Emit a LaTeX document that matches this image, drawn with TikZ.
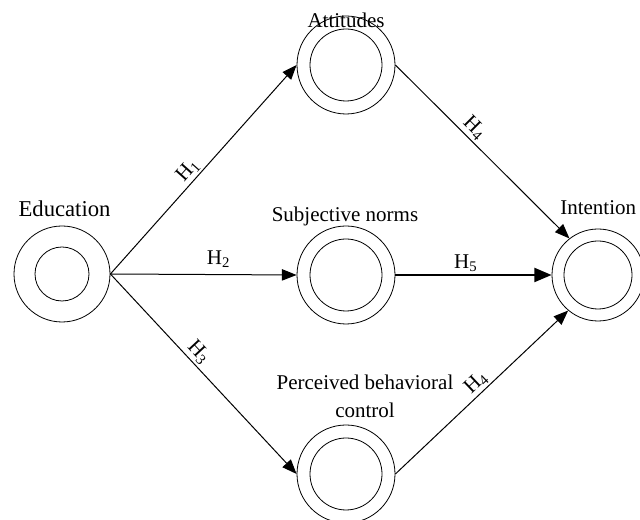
\documentclass[tikz,border=0pt]{standalone}
\usepackage{fontspec}
\setmainfont{Liberation Serif}
\usetikzlibrary{arrows.meta}

\begin{document}
\begin{tikzpicture}[
  x=1pt, y=1pt,
  >={Triangle[length=11pt, width=8.5pt]},
  construct/.style n args={2}{circle, draw, line width=0.6pt, inner sep=0pt,
    minimum size=#1,
    path picture={\draw[line width=0.6pt] (path picture bounding box.center)
      circle[radius=#2];}},
  tag/.style={font=\fontsize{15.75}{21}\selectfont, inner sep=0pt, align=center},
  link/.style={->, line width=0.75pt},
  hyp/.style={font=\fontsize{15.75}{21}\selectfont, sloped, above, inner sep=1.5pt},
]
\useasboundingbox (0,0) rectangle (480,390);

% constructs
\node[construct={72pt}{20.25pt}] (edu) at (46.5,184.5) {};
\node[construct={73.5pt}{27pt}] (att) at (259.5,341.25) {};
\node[construct={73.5pt}{27pt}] (subj) at (259.5,183.75) {};
\node[construct={73.5pt}{27pt}] (per) at (259.5,34.5) {};
\node[construct={69pt}{25.5pt}] (int) at (448.5,183.75) {};

% names
\node[tag, font=\fontsize{17}{21}\selectfont, anchor=base] (eduT) at (48.4,227.25) {Education};
\node[tag, anchor=base] (attT) at (259.5,369) {Attitudes};
\node[tag, anchor=base] (subjT) at (258.75,223.5) {Subjective norms};
\node[tag, anchor=base west] (intT) at (420,228.75) {Intention};
\node[tag, anchor=base] (perT) at (273.75,76.5) {Perceived behavioral\\control};

% paths
\draw[link] (edu.east) -- node[hyp, pos=0.46] {H\textsubscript{1}} (att.west);
\draw[link] (edu.east) -- node[hyp, pos=0.58, inner sep=5pt] {H\textsubscript{2}} (subj.west);
\draw[link] (edu.east) -- node[hyp, pos=0.43] {H\textsubscript{3}} (per.west);
\draw[link] (att.east) -- node[hyp, pos=0.41] {H\textsubscript{4}} (int.128);
\draw[link, line width=1.8pt, -{Triangle[length=13pt, width=10.5pt]}] (subj.east) -- node[hyp, pos=0.45] {H\textsubscript{5}} (int.west);
\draw[link] (per.east) -- node[hyp, pos=0.51] {H\textsubscript{4}} (int.230);

\end{tikzpicture}
\end{document}
